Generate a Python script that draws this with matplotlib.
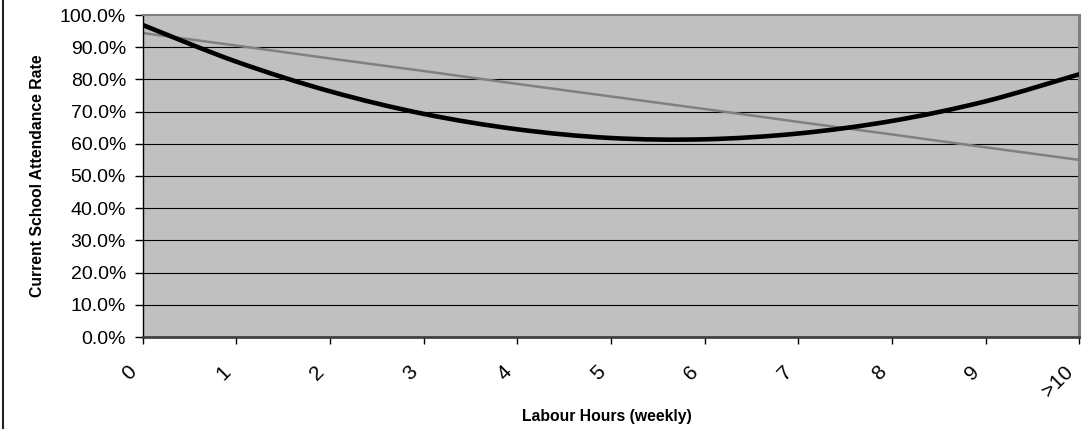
import matplotlib
matplotlib.use("Agg")
import matplotlib.pyplot as plt
from matplotlib.lines import Line2D
from matplotlib.path import Path
from matplotlib.patches import PathPatch
from matplotlib.transforms import ScaledTranslation
from matplotlib.ticker import FuncFormatter

# ---- data ----
categories = ["0", "1", "2", "3", "4", "5", "6", "7", "8", "9", ">10"]
poly_trend = [96.9, 85.5, 76.3, 69.3, 64.5, 61.8, 61.4, 63.2, 67.1, 73.2, 81.6]
linear_trend = [94.4, 90.5, 86.5, 82.6, 78.6, 74.7, 70.8, 66.8, 62.9, 58.9, 55.0]
y_ticks = [0, 10, 20, 30, 40, 50, 60, 70, 80, 90, 100]
x_label = "Labour Hours (weekly)"
y_label = "Current School Attendance Rate"

plt.rcParams['font.family'] = ['Liberation Sans', 'DejaVu Sans']

W, H = 1089, 429
fig = plt.figure(figsize=(W / 100, H / 100), dpi=100)
L, R, T, B = 142.7, 1079.3, 15, 337
ax = fig.add_axes([L / W, 1 - B / H, (R - L) / W, (B - T) / H])
ax.set_facecolor('#C0C0C0')

x = list(range(len(categories)))
for yv in y_ticks[1:-1]:
    ax.axhline(yv, color='black', lw=0.8, zorder=1)

ax.plot(x, linear_trend, color='#808080', lw=1.8, zorder=2, solid_capstyle='butt')


def smooth_path(xs, ys, t=1 / 6):
    # Catmull-Rom style cubic Bezier through the data points (smoothed line)
    n = len(xs)
    verts = [(xs[0], ys[0])]
    codes = [Path.MOVETO]
    for i in range(n - 1):
        x0, y0 = (xs[i - 1], ys[i - 1]) if i > 0 else (xs[i], ys[i])
        x1, y1 = xs[i], ys[i]
        x2, y2 = xs[i + 1], ys[i + 1]
        x3, y3 = (xs[i + 2], ys[i + 2]) if i + 2 < n else (xs[i + 1], ys[i + 1])
        c1 = (x1 + (x2 - x0) * t, y1 + (y2 - y0) * t)
        c2 = (x2 - (x3 - x1) * t, y2 - (y3 - y1) * t)
        verts += [c1, c2, (x2, y2)]
        codes += [Path.CURVE4] * 3
    return Path(verts, codes)


ax.add_patch(PathPatch(smooth_path(x, poly_trend), facecolor='none',
                       edgecolor='black', lw=3.3, zorder=3))

ax.set_xlim(0, len(categories) - 1)
ax.set_ylim(0, 100)
ax.set_yticks(y_ticks)
ax.yaxis.set_major_formatter(FuncFormatter(lambda v, p: f"{v:.1f}%"))
ax.set_xticks(x)
ax.set_xticklabels(categories, rotation=45, ha='right', va='center',
                   rotation_mode='anchor')

ax.tick_params(axis='y', direction='out', length=6, width=1, color='black',
               labelsize=14, pad=6)
ax.tick_params(axis='x', direction='out', length=5, width=1, color='black',
               labelsize=15, pad=18)
for lbl in ax.get_xticklabels():
    lbl.set_transform(lbl.get_transform() + ScaledTranslation(-0.09, 0, fig.dpi_scale_trans))

ax.spines['top'].set_color('#808080')
ax.spines['top'].set_linewidth(1.5)
ax.spines['right'].set_color('#808080')
ax.spines['right'].set_linewidth(2.2)
ax.spines['bottom'].set_color('#404040')
ax.spines['bottom'].set_linewidth(2.0)
ax.spines['left'].set_color('black')
ax.spines['left'].set_linewidth(1.0)

fig.text(607 / W, 1 - 417 / H, x_label, ha='center', va='center',
         fontsize=11.3, fontweight='bold')
fig.text(38 / W, 1 - 176 / H, y_label, ha='center', va='center',
         rotation=90, fontsize=11.3, fontweight='bold')

fig.add_artist(Line2D([2.5 / W, 2.5 / W], [0, 1], transform=fig.transFigure,
                      color='#222222', lw=1.5))

fig.savefig('out.png', dpi=100)
